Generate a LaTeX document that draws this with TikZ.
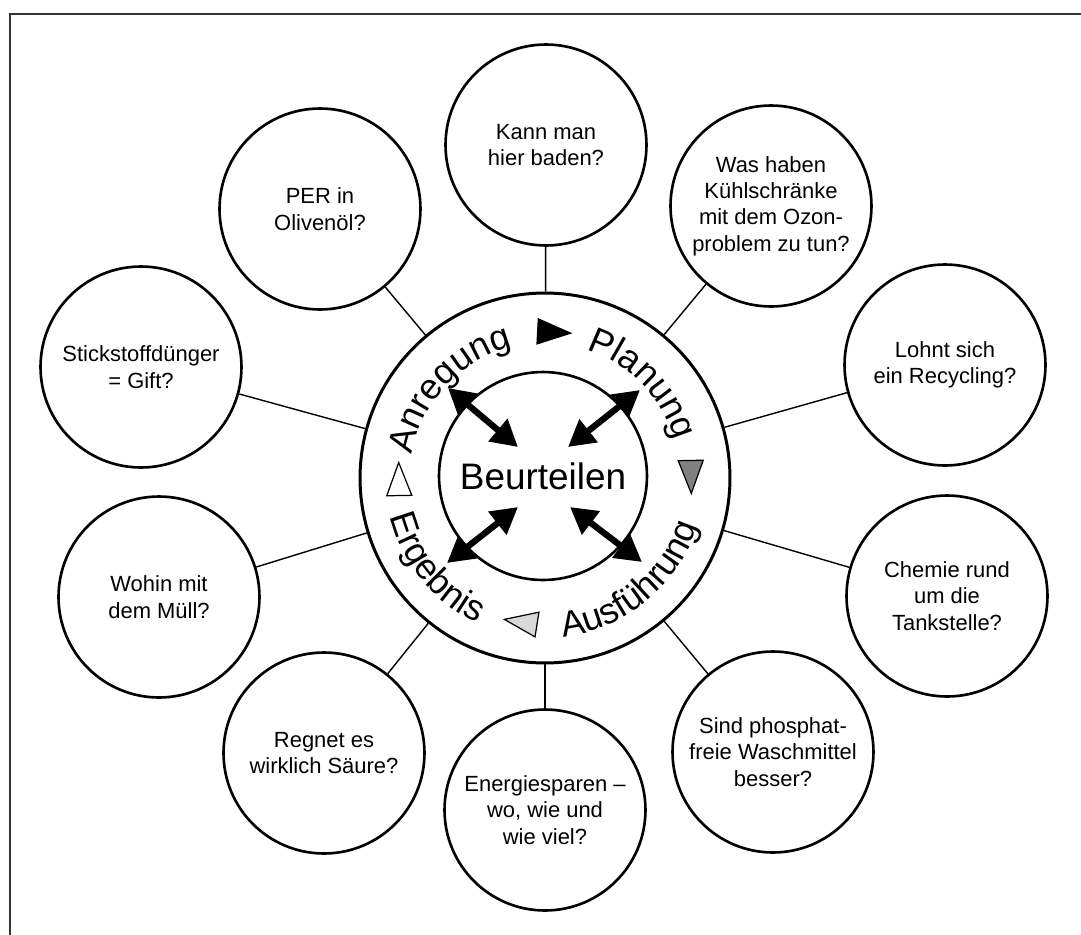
\documentclass[tikz,border=0pt]{standalone}
\usepackage{fontspec}
\setmainfont{Liberation Sans}
\usepackage{tikz}
\usetikzlibrary{arrows.meta, decorations.text}

\definecolor{markgray}{gray}{0.5}
\definecolor{marklight}{gray}{0.85}
\newcommand{\phasefont}{\fontsize{20.5}{24}\selectfont}

\begin{document}
\begin{tikzpicture}[x=0.02cm, y=0.02cm,
    topic/.style={circle, draw=black, line width=1.5pt, minimum size=4.02cm, inner sep=0pt, align=center, font=\fontsize{12.5}{15}\selectfont},
    link/.style={draw=black, line width=0.8pt},
    biarrow/.style={{Triangle[length=15pt,width=16pt]}-{Triangle[length=15pt,width=16pt]}, line width=3.6pt},
    phase/.style={decorate, decoration={text along path, text align=center, text={|\phasefont|#1}}}]
			\useasboundingbox (-545,-456) rectangle (536,478);
			\draw[black!80, line width=1.1pt] (-535,-460) -- (-535,464) -- (540,464);
			
			% Center
			\node[circle, draw=black, line width=1.7pt, minimum size=7.4cm] (r) at (0,0) {};
			\node[circle, draw=black, line width=1.5pt, minimum size=4.16cm, font=\fontsize{21}{25}\selectfont] (c) at (-2,2) {Beurteilen};
			
			% Phases
			\path[phase=Anregung] (177:135) arc[start angle=177, end angle=97, radius=135];
			\path[phase=Planung] (84:135) arc[start angle=84, end angle=4, radius=135];
			\path[phase=Ausführung] (-90.5:160) arc[start angle=-90.5, end angle=-10.5, radius=160];
			\path[phase=Ergebnis] (-180.5:160) arc[start angle=-180.5, end angle=-100.5, radius=160];
			\foreach \ang/\dir/\col in {87/-3/black, 1/-89/markgray, -99/171/marklight, 181/91/white}
				\draw[fill=\col, line width=0.7pt, shift={(\ang:146)}, rotate=\dir] (18,0) -- (-15,12.5) -- (-15,-12.5) -- cycle;
			
			% Arrows
			\foreach \n/\x/\y/\u/\v in {nw/-27/31/-97/90, ne/23/31/95/88, sw/-27/-29/-98/-85, se/25/-29/97/-84} {
				\coordinate (\n1) at (\x,\y);
				\coordinate (\n2) at (\u,\v);
				\path[biarrow] (\n1) edge (\n2);
			}
			
			% Nodes
			\node[topic] (1) at (1,333) {Kann man\\hier baden?};
			\node[topic] (2) at (226,272) {Was haben\\Kühlschränke\\mit dem Ozon-\\problem zu tun?};
			\node[topic] (3) at (400,113) {Lohnt sich\\ein Recycling?};
			\node[topic] (4) at (402,-118) {Chemie rund\\um die\\Tankstelle?};
			\node[topic] (5) at (228,-274) {Sind phosphat-\\freie Waschmittel\\besser?};
			\node[topic] (6) at (0,-332) {Energiesparen –\\wo, wie und\\wie viel?};
			\node[topic] (7) at (-221,-275) {Regnet es\\wirklich Säure?};
			\node[topic] (8) at (-386,-119) {Wohin mit\\dem Müll?};
			\node[topic] (9) at (-404,111) {Stickstoffdünger\\= Gift?};
			\node[topic] (10) at (-225,269) {PER in\\Olivenöl?};
			
			% Edges
			\foreach \i in {1,...,10}
				\path[link] (r) edge (\i);
		\end{tikzpicture}
\end{document}
